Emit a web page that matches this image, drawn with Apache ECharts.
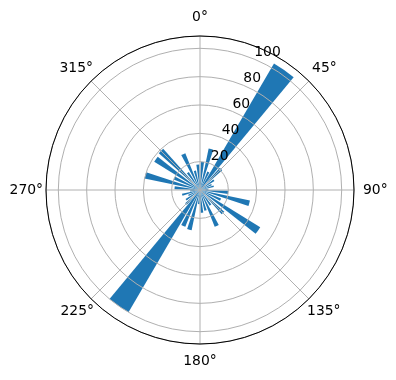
<!DOCTYPE html>
<html>
<head>
<meta charset="utf-8">
<script src="https://cdn.jsdelivr.net/npm/echarts@6/dist/echarts.min.js"></script>
<style>html,body{margin:0;padding:0;background:#fff;}#c{width:396px;height:380px;}</style>
</head>
<body>
<div id="c"></div>
<script>
// Direction bins (compass degrees, bin centres, 10° wide)
var binCenters = [5,15,25,35,45,55,65,75,85,95,105,115,125,135,145,155,165,175,
                  185,195,205,215,225,235,245,255,265,275,285,295,305,315,325,335,345,355];
// Bar lengths for the ordinary bins (null where the dominant bins are drawn)
var binValues = [20,30,14,null,21,12,9,10,6,20,36,16,50,23,13,28,15,16,
                 10,29,28,null,14,12,9,13,7,18,40,20,38,39,15,28,14,18];
// The two dominant bins
var majorValues = [null,null,null,103.5,null,null,null,null,null,null,null,null,null,null,null,null,null,null,
                   null,null,null,100,null,null,null,null,null,null,null,null,null,null,null,null,null,null];
var radialTicks = [20,40,60,80,100];
var angleTicks = [0,45,90,135,180,225,270,315];
var rMax = 108.7;

var chart = echarts.init(document.getElementById('c'), null, {renderer:'canvas'});
var C = [200,190], R = 154;
var FONT = 'DejaVu Sans';
var catNames = binCenters.map(function(d){return String(d);});

function lbl(pad){ return {padding:pad, color:'#000', fontFamily:FONT, fontSize:13.9}; }
var angleRich = {
  a0:lbl([0,0,16,0]),
  a45:lbl([0,0,9,6]),
  a90:lbl([0,0,0,13]),
  a135:lbl([8,0,0,1]),
  a180:lbl([14,0,0,0]),
  a225:lbl([8,0,0,0]),
  a270:lbl([0,7,0,0]),
  a315:lbl([0,1,9,0])
};

var option = {
  animation:false,
  backgroundColor:'#ffffff',
  polar:[
    {center:C, radius:R},
    {center:C, radius:R},
    {center:C, radius:R},
    {center:C, radius:R}
  ],
  angleAxis:[
    {polarIndex:0, type:'category', data:catNames, startAngle:90, clockwise:true,
     axisLine:{show:false}, axisTick:{show:false}, axisLabel:{show:false}, splitLine:{show:false}},
    {polarIndex:1, type:'category', data:catNames, startAngle:90, clockwise:true,
     axisLine:{show:false}, axisTick:{show:false}, axisLabel:{show:false}, splitLine:{show:false}},
    {polarIndex:2, type:'value', min:0, max:360, interval:45, startAngle:90, clockwise:true, z:5,
     axisLine:{show:true, lineStyle:{color:'#000', width:1}},
     axisTick:{show:false},
     axisLabel:{show:true, margin:-4, color:'#000', fontFamily:FONT, fontSize:13.9, showMaxLabel:false,
       rich:angleRich,
       formatter:function(v){return angleTicks.indexOf(v)>=0 ? '{a'+v+'|'+v+'°}' : '';}},
     splitLine:{show:true, lineStyle:{color:'#b0b0b0', width:1}}},
    {polarIndex:3, type:'value', min:0, max:360, startAngle:67.5, clockwise:true,
     axisLine:{show:false}, axisTick:{show:false}, axisLabel:{show:false}, splitLine:{show:false}}
  ],
  radiusAxis:[
    {polarIndex:0, type:'value', min:0, max:rMax, axisLine:{show:false}, axisTick:{show:false}, axisLabel:{show:false}, splitLine:{show:false}},
    {polarIndex:1, type:'value', min:0, max:rMax, axisLine:{show:false}, axisTick:{show:false}, axisLabel:{show:false}, splitLine:{show:false}},
    {polarIndex:2, type:'value', min:0, max:rMax, interval:20, z:5,
     axisLine:{show:false}, axisTick:{show:false}, axisLabel:{show:false},
     splitLine:{show:true, lineStyle:{color:'#b0b0b0', width:1}}},
    {polarIndex:3, type:'value', min:0, max:rMax, interval:20, z:6,
     axisLine:{show:false}, axisTick:{show:false}, splitLine:{show:false},
     axisLabel:{show:true, showMinLabel:false, margin:0, align:'left', verticalAlign:'bottom', color:'#000', fontFamily:FONT, fontSize:13.9,
       formatter:function(v){return radialTicks.indexOf(v)>=0 ? String(v) : '';}}}
  ],
  series:[
    {type:'bar', coordinateSystem:'polar', polarIndex:0, data:binValues, barWidth:'65%',
     itemStyle:{color:'#1f77b4'}, z:2},
    {type:'bar', coordinateSystem:'polar', polarIndex:1, data:majorValues, barWidth:'94%',
     itemStyle:{color:'#1f77b4'}, z:2}
  ]
};
chart.setOption(option);
</script>
</body>
</html>
